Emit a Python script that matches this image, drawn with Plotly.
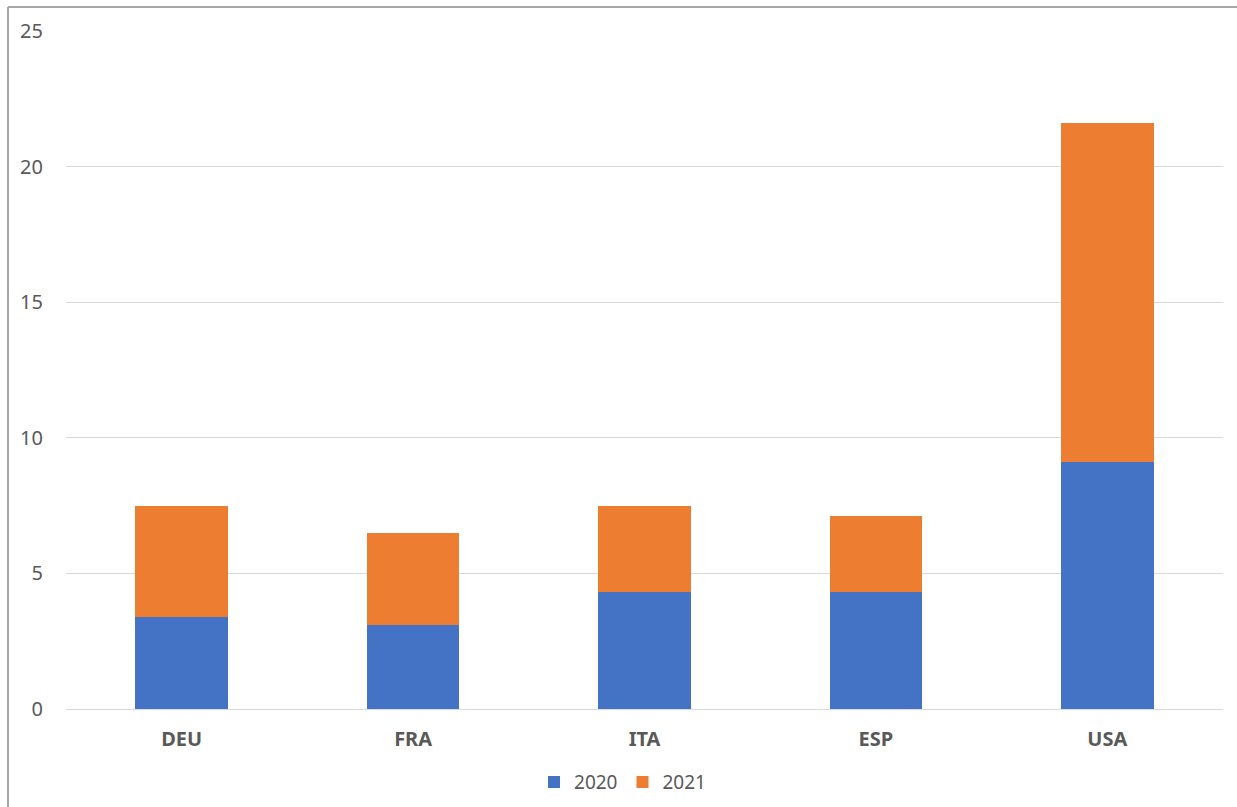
import plotly.graph_objects as go

countries = ["DEU", "FRA", "ITA", "ESP", "USA"]
values_2020 = [3.4, 3.1, 4.3, 4.3, 9.1]
values_2021 = [4.1, 3.4, 3.2, 2.8, 12.5]
y_ticks = [0, 5, 10, 15, 20, 25]

BLUE = "#4472C4"
ORANGE = "#ED7D31"
TEXT = "#595959"
FONT = "Noto Sans"

fig = go.Figure()
fig.add_trace(go.Bar(name="2020", x=countries, y=values_2020, marker=dict(color=BLUE, line=dict(width=0))))
fig.add_trace(go.Bar(name="2021", x=countries, y=values_2021, marker=dict(color=ORANGE, line=dict(width=0))))

fig.update_layout(
    width=1237,
    height=807,
    barmode="stack",
    bargap=0.6,
    plot_bgcolor="white",
    paper_bgcolor="white",
    margin=dict(l=66, r=14, t=31, b=98, pad=0, autoexpand=False),
    font=dict(family=FONT, size=20, color=TEXT),
    showlegend=True,
    legend=dict(
        orientation="h",
        x=0.481,
        xanchor="center",
        y=-0.108,
        yanchor="middle",
        font=dict(family=FONT, size=19, color=TEXT),
        itemwidth=30,
        traceorder="normal",
    ),
    xaxis=dict(
        showgrid=False,
        showline=False,
        ticks="",
        tickfont=dict(family=FONT, size=20, color=TEXT, weight="bold"),
        ticklabelstandoff=16,
    ),
    yaxis=dict(
        range=[0, 25],
        tickvals=y_ticks,
        showgrid=True,
        gridcolor="#D9D9D9",
        gridwidth=1,
        zeroline=True,
        zerolinecolor="#D9D9D9",
        zerolinewidth=1,
        showline=False,
        ticks="",
        tickfont=dict(family=FONT, size=20, color=TEXT),
        ticklabelstandoff=22,
    ),
    shapes=[
        # frame along the top and left edges of the chart area
        dict(type="line", xref="paper", yref="paper",
             x0=-58 / 1157, x1=1.2, y0=1 + 24 / 678, y1=1 + 24 / 678,
             line=dict(color="#A6A6A6", width=2)),
        dict(type="line", xref="paper", yref="paper",
             x0=-58 / 1157, x1=-58 / 1157, y0=-0.2, y1=1 + 24 / 678,
             line=dict(color="#A6A6A6", width=2)),
    ],
)

fig.write_html("out.html")
